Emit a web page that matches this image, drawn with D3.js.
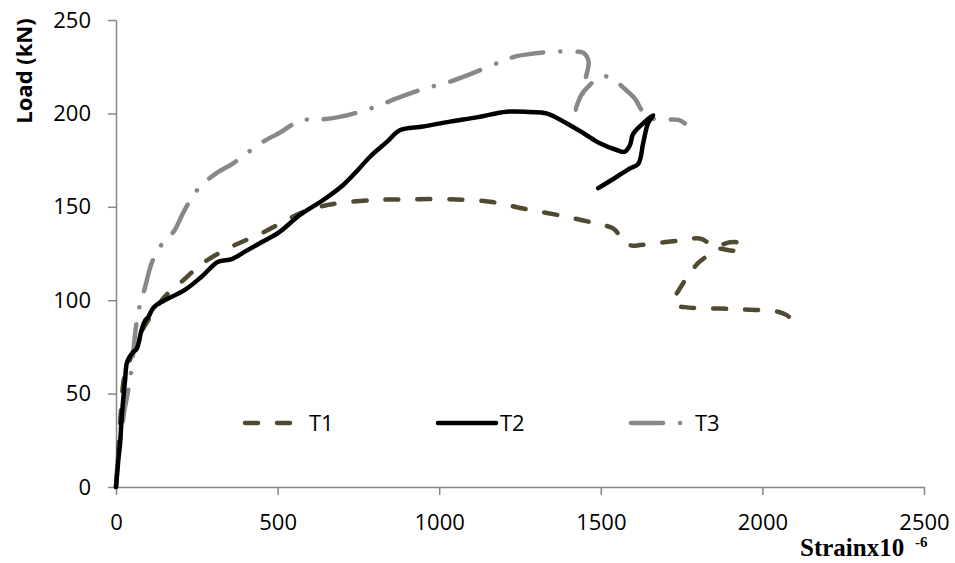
<!DOCTYPE html>
<html>
<head>
<meta charset="utf-8">
<script src="https://cdn.jsdelivr.net/npm/d3@7"></script>
<style>
body{margin:0;background:#fff;}
svg{display:block;}
</style>
</head>
<body>
<svg id="chart" width="955" height="563"></svg>
<script>
const xTicks = [0, 500, 1000, 1500, 2000, 2500];
const yTicks = [0, 50, 100, 150, 200, 250];
const seriesNames = ["T1", "T2", "T3"];

const t1Strain = [0,4,9,15,22,30,38,55,75,100,125,151,203,275,368,450,507,569,620,672,796,909,1033,1157,1270,1394,1486,1538,1560,1574,1600,1621,1683,1745,1806,1858,1880,1900,1930,1937,1910,1862,1840,1800,1770,1740,1725,1735,1760,1806,1868,1925,1987,2049,2075,2090];
const t1Load   = [0,10,25,40,55,62,66,73,82,89.4,96,101.9,109.9,120.6,129.5,135.8,141,146.5,149.5,151.5,153.6,154,154,152.7,148.7,144.7,141,138.4,134,130.4,129.2,129.5,130.8,131.9,133,128.6,130,131,130.5,127.5,126.5,127.5,125,119.7,113,105,100,97,96.3,95.7,95.5,95.1,94.7,93.8,92,90];

const t2Strain = [0,4,8,12,18,24,28,33,40,52,64,79,90,100,112,125,140,157,213,265,316,358,399,450,502,569,640,703,750,786,840,878,950,1033,1120,1208,1280,1332,1394,1450,1497,1549,1574,1590,1600,1631,1662,1646,1631,1616,1590,1540,1492];
const t2Load   = [0,8,16,22,38,50,57,66,69,72,74,84,89,91,95,97.4,99,100.5,105.5,112.6,120.6,122,126,131,136,145.6,153.5,161.7,170,176.8,185,191,193,195.6,198,200.9,200.7,200,194.7,189,184,180.4,179.5,183,189,194.7,199,194.7,184,173,170.6,165,160];

const t3Strain = [0,7,17,25,38,48,55,62,74,90,110,136,160,182,200,224,260,311,360,404,456,512,545,569,621,688,755,810,868,950,1033,1110,1188,1234,1290,1353,1420,1445,1462,1452,1440,1422,1440,1465,1497,1525,1548,1575,1605,1625,1641,1670,1703,1740,1760];
const t3Load   = [0,17,29,40,52,63,75,86,97.4,107,119.7,128.6,133,137.6,144,151.8,160.8,168,173,178.6,184.9,190.2,194,196.5,196.5,198,200.9,204,208,213,217,222,227.5,230.4,232,233,233,232.5,228,218,208,202,210,215,219.6,219.5,217,213,208,202,198,197,196.8,196.5,194.7];

const W = 955, H = 563;
const m = {left:116, top:20, right:31, bottom:76};
const svg = d3.select("#chart");
const x = d3.scaleLinear().domain([0,2500]).range([m.left, W - m.right]);
const y = d3.scaleLinear().domain([0,250]).range([H - m.bottom, m.top]);

const axisColor = "#868686";
const font = "'Open Sans', sans-serif";
const fmt = d3.format("d");

const gx = svg.append("g").attr("transform", `translate(0,${y(0)})`)
  .call(d3.axisBottom(x).tickValues(xTicks).tickFormat(fmt).tickSize(8).tickPadding(19).tickSizeOuter(0));
const gy = svg.append("g").attr("transform", `translate(${x(0)},0)`)
  .call(d3.axisLeft(y).tickValues(yTicks).tickFormat(fmt).tickSize(8).tickPadding(17).tickSizeOuter(0));
[gx, gy].forEach(g => {
  g.select(".domain").attr("stroke", axisColor).attr("stroke-width", 1.5);
  g.selectAll(".tick line").attr("stroke", axisColor).attr("stroke-width", 1.5);
  g.selectAll(".tick text").attr("fill", "#000").style("font-family", font).style("font-size", "22px");
});

svg.append("text")
  .attr("transform", "translate(32,71) rotate(-90)")
  .attr("text-anchor", "middle")
  .style("font-family", font).style("font-size", "22px").style("font-weight", "bold")
  .text("Load (kN)");

const serif = "'Liberation Serif', 'Times New Roman', serif";
svg.append("text")
  .attr("x", 800).attr("y", 556)
  .style("font-family", serif)
  .style("font-size", "25px").style("font-weight", "bold")
  .text("Strainx10");
svg.append("text")
  .attr("x", 915).attr("y", 547)
  .style("font-family", serif)
  .style("font-size", "15px").style("font-weight", "bold")
  .text("-6");

const styles = {
  T1: {stroke:"#4f4a30", dash:"13,19", width:4.5},
  T2: {stroke:"#000000", dash:null, width:4.5},
  T3: {stroke:"#888888", dash:"32,17,0.1,17", width:4.5}
};
const data = {
  T1: t1Strain.map((s,i)=>[s, t1Load[i]]),
  T2: t2Strain.map((s,i)=>[s, t2Load[i]]),
  T3: t3Strain.map((s,i)=>[s, t3Load[i]])
};
const line = d3.line().x(d=>x(d[0])).y(d=>y(d[1])).curve(d3.curveCatmullRom.alpha(0.5));

["T1","T3","T2"].forEach(name => {
  const st = styles[name];
  svg.append("path").datum(data[name])
    .attr("d", line)
    .attr("fill", "none")
    .attr("stroke", st.stroke)
    .attr("stroke-width", st.width)
    .attr("stroke-linecap", "round")
    .attr("stroke-linejoin", "round")
    .attr("stroke-dasharray", st.dash);
});

// legend
const legend = [
  {name:"T1", x0:245, x1:291, tx:309},
  {name:"T2", x0:438, x1:496, tx:500},
  {name:"T3", x0:631, x1:681, tx:695}
];
const ly = 423;
legend.forEach(l => {
  const st = styles[l.name];
  svg.append("line")
    .attr("x1", l.x0).attr("x2", l.x1).attr("y1", ly).attr("y2", ly)
    .attr("stroke", st.stroke).attr("stroke-width", st.width)
    .attr("stroke-linecap", "round")
    .attr("stroke-dasharray", st.dash);
  svg.append("text").attr("x", l.tx).attr("y", ly + 8)
    .style("font-family", font).style("font-size", "22px")
    .text(l.name);
});
</script>
</body>
</html>
